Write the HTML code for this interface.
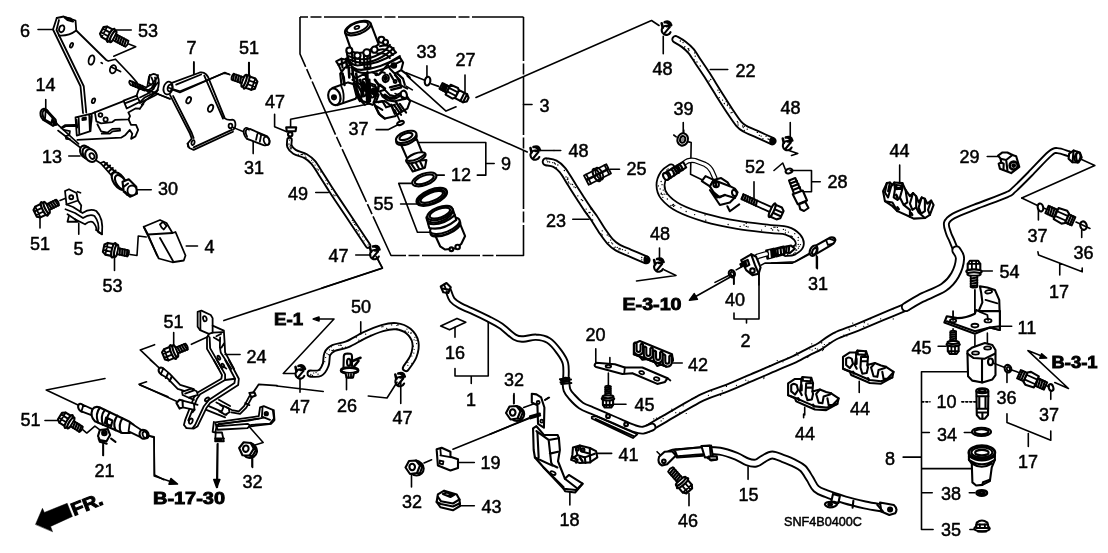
<!DOCTYPE html>
<html><head><meta charset="utf-8"><title>SNF4B0400C</title>
<style>
html,body{margin:0;padding:0;background:#fff;}
svg{display:block;filter:grayscale(1)}
svg path,svg circle,svg ellipse,svg line,svg polyline,svg polygon,svg rect{vector-effect:non-scaling-stroke;fill:none;stroke:#000;stroke-width:1.8;stroke-linecap:round;stroke-linejoin:round}
svg .w{fill:#fff}
svg .k{fill:#000}
svg .g{fill:#888}
svg .t{stroke-width:1.6}
svg .b{stroke-width:2.1}
svg .h{stroke-width:2.6}
svg .wh{stroke:#fff}
svg .d{stroke-dasharray:1 3;stroke-width:1.2}
svg text{font-family:"Liberation Sans",Arial,Helvetica,sans-serif;font-size:18px;fill:#000;stroke:#000;stroke-width:0.5px}
svg text.bd{font-weight:bold;font-size:17px;stroke:#000;stroke-width:0.9px}
</style></head><body>
<svg width="1108" height="553" viewBox="0 0 1108 553">
<rect x="0" y="0" width="1108" height="553" style="fill:#fff;stroke:none"/>
<!-- 00_defs.svgf -->
<defs>
<!-- bolt along +x: head centered at 0, shank to x=23 -->
<g id="bolt">
<path class="w b" d="M-6.500 -3.800L-3.500 -6L2.500 -6L2.500 6L-3.500 6L-6.500 3.800Z"/>
<path d="M-6 -2L2.500 -2M-6 2L2.500 2M-3.500 -6L-3.500 6"/>
<ellipse class="w b" cx="3.800" cy="0" rx="2" ry="7.400"/>
<ellipse class="w b" cx="6.300" cy="0" rx="1.800" ry="6.400"/>
<path class="w" d="M7.800 -3.300L22 -3.300Q23.500 0 22 3.300L7.800 3.300Z"/>
<path class="b" d="M9.500 -3.300L10.500 3.300M12 -3.300L13 3.300M14.500 -3.300L15.500 3.300M17 -3.300L18 3.300M19.500 -3.300L20.500 3.300"/>
</g>
<!-- short bolt: shank to x=19 -->
<g id="bolts">
<path class="w b" d="M-6.500 -3.800L-3.500 -6L2.500 -6L2.500 6L-3.500 6L-6.500 3.800Z"/>
<path d="M-6 -2L2.500 -2M-6 2L2.500 2M-3.500 -6L-3.500 6"/>
<ellipse class="w b" cx="3.800" cy="0" rx="2" ry="7.400"/>
<ellipse class="w b" cx="6.300" cy="0" rx="1.800" ry="6.400"/>
<path class="w" d="M7.800 -3.100L18.500 -3.100Q20 0 18.500 3.100L7.800 3.100Z"/>
<path class="b" d="M9.500 -3.100L10.500 3.100M12 -3.100L13 3.100M14.500 -3.100L15.500 3.100M17 -3.100L18 3.100"/>
</g>
<!-- flanged nut -->
<g id="nut">
<ellipse class="w b" cx="2.500" cy="1" rx="7.200" ry="7"/>
<path class="w b" d="M-8.500 0L-5 -6.500L2 -7L6 -2L3 5.500L-4 6.500Z"/>
<path class="b" d="M2 -7L5 -6L8.500 -1.200L6 -2M8.500 -1.200L5.800 6L3 5.500"/>
<ellipse class="b" cx="-1.800" cy="-0.500" rx="2.800" ry="3.200"/>
</g>
<!-- small hose clip -->
<g id="clip">
<path class="b" d="M3.500 -1.500A4.600 4.600 0 1 0 4.300 3.500"/>
<path class="h" d="M-4.500 -5.500L-3.500 -1M-1.500 -6.500Q3.500 -8.500 5 -3.500L0.500 -2.500M1 -6L4 -4.200"/>
<path class="b" d="M3 -1L-2 5"/>
</g>
<!-- o-ring washer small -->
<g id="oring"><ellipse class="b" cx="0" cy="0" rx="2.6" ry="3.8"/></g>
</defs>

<!-- 05_pipes.svgf -->
<!-- long pipe 1 generated -->
<g>
<path style="stroke-width:6.9" d="M956.5 252.0C955.8 250.2 953.3 244.2 952.0 241.0C950.7 237.8 949.4 236.0 948.5 233.0C947.6 230.0 945.7 225.8 946.5 223.0C947.3 220.2 948.8 218.7 953.5 216.0C958.2 213.3 966.2 210.5 975.0 207.0C983.8 203.5 999.8 197.8 1006.2 195.0C1012.7 192.2 1009.7 193.5 1013.7 190.0C1017.7 186.5 1024.0 180.1 1030.0 174.0C1036.0 167.9 1045.3 157.6 1049.9 153.7C1054.5 149.8 1054.3 150.6 1057.4 150.6C1060.5 150.6 1066.7 153.2 1068.6 153.7"/>
<path class="wh" style="stroke-width:3.1" d="M956.5 252.0C955.8 250.2 953.3 244.2 952.0 241.0C950.7 237.8 949.4 236.0 948.5 233.0C947.6 230.0 945.7 225.8 946.5 223.0C947.3 220.2 948.8 218.7 953.5 216.0C958.2 213.3 966.2 210.5 975.0 207.0C983.8 203.5 999.8 197.8 1006.2 195.0C1012.7 192.2 1009.7 193.5 1013.7 190.0C1017.7 186.5 1024.0 180.1 1030.0 174.0C1036.0 167.9 1045.3 157.6 1049.9 153.7C1054.5 149.8 1054.3 150.6 1057.4 150.6C1060.5 150.6 1066.7 153.2 1068.6 153.7"/>
<path style="stroke-width:7.3" d="M448.5 291.0C449.1 292.5 450.3 297.4 452.2 299.8C454.1 302.2 456.2 303.5 459.8 305.5C463.4 307.5 469.2 309.8 474.0 312.0C478.8 314.2 484.0 316.7 488.5 319.0C493.0 321.3 496.6 323.0 501.0 326.0C505.4 329.0 511.0 335.0 514.8 337.2C518.5 339.4 520.0 339.0 523.5 339.0C527.0 339.0 531.8 336.9 536.0 337.2C540.2 337.4 544.8 338.2 548.5 340.5C552.2 342.8 555.7 347.2 558.5 351.0C561.3 354.8 564.3 358.5 565.5 363.5C566.7 368.5 565.8 378.1 565.8 381.0"/>
<path class="wh" style="stroke-width:3.5" d="M448.5 291.0C449.1 292.5 450.3 297.4 452.2 299.8C454.1 302.2 456.2 303.5 459.8 305.5C463.4 307.5 469.2 309.8 474.0 312.0C478.8 314.2 484.0 316.7 488.5 319.0C493.0 321.3 496.6 323.0 501.0 326.0C505.4 329.0 511.0 335.0 514.8 337.2C518.5 339.4 520.0 339.0 523.5 339.0C527.0 339.0 531.8 336.9 536.0 337.2C540.2 337.4 544.8 338.2 548.5 340.5C552.2 342.8 555.7 347.2 558.5 351.0C561.3 354.8 564.3 358.5 565.5 363.5C566.7 368.5 565.8 378.1 565.8 381.0"/>
<path style="stroke-width:8.7" d="M648.0 428.5C650.8 426.9 655.9 423.8 665.0 418.6C674.1 413.4 692.0 402.5 702.4 397.4C712.8 392.3 719.0 391.3 727.3 388.0C735.6 384.7 743.5 381.1 752.0 377.5C760.5 373.9 770.8 369.3 778.0 366.2C785.2 363.1 789.7 361.5 795.0 359.0C800.3 356.5 805.8 353.2 810.0 351.1C814.2 349.0 815.8 348.7 820.0 346.2C824.2 343.7 828.8 339.3 835.0 336.2C841.2 333.1 849.5 330.6 857.3 327.4C865.1 324.2 873.5 320.5 882.0 317.0C890.5 313.5 903.7 308.0 908.0 306.2"/>
<path class="wh" style="stroke-width:4.9" d="M648.0 428.5C650.8 426.9 655.9 423.8 665.0 418.6C674.1 413.4 692.0 402.5 702.4 397.4C712.8 392.3 719.0 391.3 727.3 388.0C735.6 384.7 743.5 381.1 752.0 377.5C760.5 373.9 770.8 369.3 778.0 366.2C785.2 363.1 789.7 361.5 795.0 359.0C800.3 356.5 805.8 353.2 810.0 351.1C814.2 349.0 815.8 348.7 820.0 346.2C824.2 343.7 828.8 339.3 835.0 336.2C841.2 333.1 849.5 330.6 857.3 327.4C865.1 324.2 873.5 320.5 882.0 317.0C890.5 313.5 903.7 308.0 908.0 306.2"/>
<path style="stroke-width:8.7" d="M565.8 381.0C566.0 382.5 566.0 387.3 567.0 390.0C568.0 392.7 569.7 394.4 572.0 397.0C574.3 399.6 577.7 403.2 581.0 405.5C584.3 407.8 588.0 408.8 592.0 410.5C596.0 412.2 600.3 414.0 605.0 416.0C609.7 418.0 615.0 420.4 620.0 422.5C625.0 424.6 631.0 427.4 634.8 428.7C638.6 430.0 640.1 430.5 643.0 430.2C645.9 429.9 650.5 427.5 652.0 427.0"/>
<path class="wh" style="stroke-width:4.9" d="M565.8 381.0C566.0 382.5 566.0 387.3 567.0 390.0C568.0 392.7 569.7 394.4 572.0 397.0C574.3 399.6 577.7 403.2 581.0 405.5C584.3 407.8 588.0 408.8 592.0 410.5C596.0 412.2 600.3 414.0 605.0 416.0C609.7 418.0 615.0 420.4 620.0 422.5C625.0 424.6 631.0 427.4 634.8 428.7C638.6 430.0 640.1 430.5 643.0 430.2C645.9 429.9 650.5 427.5 652.0 427.0"/>
<path style="stroke-width:10.1" d="M906.0 307.0C908.3 305.6 913.7 302.0 920.0 298.7C926.3 295.4 937.9 291.3 943.7 287.4C949.5 283.4 952.3 279.8 955.0 275.0C957.7 270.2 959.8 262.8 960.0 258.7C960.2 254.6 957.1 251.9 956.5 250.5"/>
<path class="wh" style="stroke-width:6.3" d="M906.0 307.0C908.3 305.6 913.7 302.0 920.0 298.7C926.3 295.4 937.9 291.3 943.7 287.4C949.5 283.4 952.3 279.8 955.0 275.0C957.7 270.2 959.8 262.8 960.0 258.7C960.2 254.6 957.1 251.9 956.5 250.5"/>
<path class="b" d="M561 380.5L571 379.5M561.3 384L571.3 383"/>
<path style="stroke-width:1.2" d="M745.7 380.2h0.1M663.1 418.6h0.1M659.9 417.0h0.1M777.2 360.6h0.1M782.9 361.8h0.1M720.6 395.5h0.1M807.8 356.5h0.1M661.1 420.9h0.1M688.5 401.2h0.1M849.5 330.0h0.1M815.4 348.3h0.1M656.4 418.1h0.1M821.7 342.7h0.1M809.8 349.0h0.1M848.9 329.0h0.1M808.6 355.7h0.1M829.2 343.5h0.1M679.8 412.3h0.1M695.7 396.5h0.1M822.9 346.7h0.1M867.9 324.1h0.1M812.1 350.0h0.1M863.7 326.3h0.1M815.3 348.4h0.1M822.6 350.6h0.1M736.4 385.3h0.1M652.2 422.5h0.1M675.7 412.7h0.1M683.1 405.8h0.1M864.4 322.1h0.1M807.7 357.5h0.1M864.2 322.7h0.1M763.8 378.6h0.1M692.1 398.7h0.1M722.2 390.8h0.1M726.1 385.6h0.1M763.9 377.2h0.1M824.4 344.5h0.1M817.3 349.1h0.1M846.8 336.0h0.1M769.4 365.5h0.1M811.7 343.8h0.1M711.6 391.1h0.1M653.7 418.8h0.1M671.8 409.2h0.1M870.6 318.8h0.1M726.4 386.4h0.1M686.2 413.5h0.1M787.9 357.8h0.1M671.9 411.5h0.1M852.7 323.1h0.1M893.0 309.0h0.1M798.0 355.2h0.1M904.9 310.9h0.1M729.3 383.3h0.1M841.2 336.7h0.1M748.1 381.1h0.1M906.8 311.2h0.1M855.7 326.3h0.1M796.7 352.6h0.1M651.5 422.8h0.1M829.2 342.6h0.1M893.2 318.9h0.1M759.0 370.5h0.1M708.4 395.3h0.1M880.6 318.8h0.1M821.4 342.9h0.1M823.4 349.4h0.1M834.8 333.0h0.1M843.8 335.1h0.1"/>
</g>
<!-- pipe 15 -->
<g>
<path style="stroke-width:8.9" d="M662.5 460.6C664.0 459.5 668.3 455.1 671.2 453.7C674.1 452.3 674.8 453.0 680.0 452.5C685.2 452.0 695.8 450.8 702.4 450.6C709.0 450.4 714.3 450.3 719.9 451.2C725.5 452.1 731.5 454.4 736.1 456.2C740.7 458.0 744.0 460.6 747.3 461.8C750.6 463.0 753.4 463.6 756.1 463.1C758.8 462.6 760.9 460.1 763.6 458.7C766.3 457.3 769.1 455.0 772.3 455.0C775.5 455.0 779.4 457.2 783.0 458.5C786.6 459.8 790.7 461.3 794.0 463.0C797.3 464.7 800.4 465.9 803.0 468.5C805.6 471.1 807.7 475.3 809.9 478.7C812.1 482.1 813.5 486.2 816.2 488.7C818.9 491.2 821.4 491.8 826.2 493.7C831.0 495.6 838.5 498.0 844.9 499.9C851.3 501.8 858.6 503.5 864.8 504.9C871.0 506.2 879.4 507.5 882.3 508.0"/>
<path class="wh" style="stroke-width:5.1" d="M662.5 460.6C664.0 459.5 668.3 455.1 671.2 453.7C674.1 452.3 674.8 453.0 680.0 452.5C685.2 452.0 695.8 450.8 702.4 450.6C709.0 450.4 714.3 450.3 719.9 451.2C725.5 452.1 731.5 454.4 736.1 456.2C740.7 458.0 744.0 460.6 747.3 461.8C750.6 463.0 753.4 463.6 756.1 463.1C758.8 462.6 760.9 460.1 763.6 458.7C766.3 457.3 769.1 455.0 772.3 455.0C775.5 455.0 779.4 457.2 783.0 458.5C786.6 459.8 790.7 461.3 794.0 463.0C797.3 464.7 800.4 465.9 803.0 468.5C805.6 471.1 807.7 475.3 809.9 478.7C812.1 482.1 813.5 486.2 816.2 488.7C818.9 491.2 821.4 491.8 826.2 493.7C831.0 495.6 838.5 498.0 844.9 499.9C851.3 501.8 858.6 503.5 864.8 504.9C871.0 506.2 879.4 507.5 882.3 508.0"/>
</g>
<!-- hoses -->
<g>
<path style="stroke-width:8.4" d="M675.6 39.3C677.0 40.1 681.1 42.3 683.7 44.3C686.3 46.3 688.7 48.2 691.2 51.2C693.7 54.2 696.1 58.7 698.6 62.4C701.1 66.1 702.8 68.4 706.1 73.6C709.5 78.8 714.7 87.4 718.7 93.7C722.7 100.0 726.6 106.2 729.9 111.2C733.2 116.2 736.2 120.8 738.7 123.7C741.2 126.6 741.6 126.8 744.9 128.7C748.2 130.6 754.0 132.8 758.6 134.9C763.2 137.0 770.1 140.1 772.4 141.1"/>
<path class="wh" style="stroke-width:4.6" d="M675.6 39.3C677.0 40.1 681.1 42.3 683.7 44.3C686.3 46.3 688.7 48.2 691.2 51.2C693.7 54.2 696.1 58.7 698.6 62.4C701.1 66.1 702.8 68.4 706.1 73.6C709.5 78.8 714.7 87.4 718.7 93.7C722.7 100.0 726.6 106.2 729.9 111.2C733.2 116.2 736.2 120.8 738.7 123.7C741.2 126.6 741.6 126.8 744.9 128.7C748.2 130.6 754.0 132.8 758.6 134.9C763.2 137.0 770.1 140.1 772.4 141.1"/>
<path style="stroke-width:1.3" d="M768.0 138.9h0.1M766.0 136.3h0.1M684.2 47.9h0.1M744.2 130.5h0.1M770.4 139.2h0.1M722.5 100.1h0.1M769.0 139.4h0.1M762.9 138.6h0.1M747.2 129.2h0.1M696.9 62.0h0.1M695.2 56.2h0.1M759.3 135.3h0.1M729.8 107.9h0.1M761.1 136.1h0.1M719.2 97.6h0.1M687.8 51.4h0.1M689.0 50.3h0.1M724.3 103.7h0.1M726.2 101.7h0.1M724.3 103.3h0.1M743.2 127.6h0.1M744.2 126.4h0.1M731.0 112.8h0.1M737.9 122.9h0.1M717.9 90.2h0.1M757.3 132.4h0.1M727.3 105.6h0.1M684.8 46.6h0.1M680.3 41.0h0.1M737.3 121.6h0.1M688.7 48.8h0.1M688.6 49.3h0.1M694.6 52.9h0.1M719.3 92.6h0.1M688.0 48.6h0.1M700.2 66.0h0.1M738.0 125.0h0.1M709.1 81.0h0.1M732.1 112.3h0.1M771.6 142.3h0.1M683.0 42.6h0.1M742.6 126.0h0.1M710.7 79.5h0.1M694.0 59.6h0.1M727.5 104.2h0.1"/>
<path style="stroke-width:8.9" d="M546.2 161.8C547.7 162.1 552.3 162.3 555.0 163.7C557.7 165.1 559.7 166.7 562.4 170.0C565.1 173.3 568.3 179.1 571.2 183.7C574.1 188.3 577.2 193.2 579.9 197.4C582.6 201.6 585.1 205.6 587.4 208.9C589.7 212.2 591.2 213.8 593.7 217.5C596.2 221.2 599.7 227.2 602.4 231.2C605.1 235.1 607.4 238.5 609.9 241.2C612.4 243.9 614.1 245.4 617.4 247.4C620.7 249.4 625.1 250.9 629.9 253.0C634.7 255.1 643.4 258.8 646.1 259.9"/>
<path class="wh" style="stroke-width:5.1" d="M546.2 161.8C547.7 162.1 552.3 162.3 555.0 163.7C557.7 165.1 559.7 166.7 562.4 170.0C565.1 173.3 568.3 179.1 571.2 183.7C574.1 188.3 577.2 193.2 579.9 197.4C582.6 201.6 585.1 205.6 587.4 208.9C589.7 212.2 591.2 213.8 593.7 217.5C596.2 221.2 599.7 227.2 602.4 231.2C605.1 235.1 607.4 238.5 609.9 241.2C612.4 243.9 614.1 245.4 617.4 247.4C620.7 249.4 625.1 250.9 629.9 253.0C634.7 255.1 643.4 258.8 646.1 259.9"/>
<path style="stroke-width:1.3" d="M552.7 162.6h0.1M555.3 164.0h0.1M614.0 248.0h0.1M554.4 163.0h0.1M577.8 195.8h0.1M568.9 183.1h0.1M566.0 176.9h0.1M549.6 162.0h0.1M575.5 187.6h0.1M589.0 212.5h0.1M546.8 159.9h0.1M610.6 240.1h0.1M590.9 208.9h0.1M617.2 247.4h0.1M619.1 248.4h0.1M609.0 236.1h0.1M620.3 248.9h0.1M582.6 200.5h0.1M556.1 167.6h0.1M567.9 179.1h0.1M622.4 249.6h0.1M570.8 184.1h0.1M586.1 209.1h0.1M572.5 184.5h0.1M592.6 220.0h0.1M574.0 186.9h0.1M581.3 199.7h0.1M564.3 170.5h0.1M568.4 181.9h0.1M547.9 161.7h0.1M567.7 177.8h0.1M612.6 243.8h0.1M625.2 250.3h0.1M641.7 259.8h0.1M600.8 233.6h0.1M628.2 253.1h0.1M615.2 247.1h0.1M592.5 215.1h0.1M618.9 249.8h0.1M607.2 235.0h0.1M547.5 161.8h0.1M557.8 165.0h0.1M602.2 230.8h0.1M587.4 213.6h0.1M611.6 242.8h0.1M602.2 234.9h0.1M567.2 179.5h0.1M608.7 242.5h0.1M641.7 257.5h0.1M590.0 212.5h0.1"/>
<path style="stroke-width:6.5" d="M289.5 140.0C289.5 141.0 288.7 144.2 289.5 146.2C290.3 148.2 291.8 150.1 294.5 151.8C297.2 153.5 302.6 154.4 305.7 156.2C308.8 158.0 310.7 159.5 313.2 162.4C315.7 165.3 318.0 169.5 320.7 173.7C323.4 177.9 326.7 183.2 329.4 187.4C332.1 191.6 333.1 193.2 336.9 198.9C340.7 204.6 346.8 213.7 352.0 221.5C357.2 229.3 365.3 241.5 368.0 245.5"/>
<path class="wh" style="stroke-width:2.7" d="M289.5 140.0C289.5 141.0 288.7 144.2 289.5 146.2C290.3 148.2 291.8 150.1 294.5 151.8C297.2 153.5 302.6 154.4 305.7 156.2C308.8 158.0 310.7 159.5 313.2 162.4C315.7 165.3 318.0 169.5 320.7 173.7C323.4 177.9 326.7 183.2 329.4 187.4C332.1 191.6 333.1 193.2 336.9 198.9C340.7 204.6 346.8 213.7 352.0 221.5C357.2 229.3 365.3 241.5 368.0 245.5"/>
<path style="stroke-width:1.1" d="M325.9 180.2h0.1M290.5 148.7h0.1M303.0 153.8h0.1M288.9 143.8h0.1M331.6 189.5h0.1M318.0 169.6h0.1M290.9 145.8h0.1M366.0 239.5h0.1M315.0 165.1h0.1M312.9 162.2h0.1M359.4 234.0h0.1M290.9 148.9h0.1M291.3 147.3h0.1M352.3 220.4h0.1M353.2 222.2h0.1M289.5 140.1h0.1M301.6 154.6h0.1M304.8 154.2h0.1M336.0 195.1h0.1M358.0 230.6h0.1M301.0 154.2h0.1M368.1 244.9h0.1M311.5 160.3h0.1M290.4 145.1h0.1M358.1 231.0h0.1M316.9 168.8h0.1M362.7 236.8h0.1M327.7 184.1h0.1M320.8 171.9h0.1M333.7 194.9h0.1M327.1 183.5h0.1M356.5 229.6h0.1M305.9 157.4h0.1M364.0 240.8h0.1M302.6 154.6h0.1M291.2 148.3h0.1M354.5 224.5h0.1M355.8 225.1h0.1M290.0 146.6h0.1M305.2 156.0h0.1M298.3 154.2h0.1M334.8 195.8h0.1M318.3 170.1h0.1M288.9 144.7h0.1M290.2 147.3h0.1"/>
<path style="stroke-width:8.1" d="M310.6 373.6C312.2 373.5 317.4 374.4 319.9 373.0C322.4 371.6 324.4 368.1 325.6 364.9C326.9 361.7 326.0 356.5 327.4 353.7C328.8 350.9 330.4 349.6 333.7 348.0C337.0 346.4 342.2 346.5 347.4 344.3C352.6 342.1 359.1 337.7 364.9 335.0C370.7 332.3 377.1 329.6 382.3 328.1C387.5 326.6 391.6 325.7 396.0 326.2C400.4 326.7 405.3 328.5 408.5 331.2C411.7 333.9 414.6 338.2 415.4 342.4C416.2 346.6 415.1 351.9 413.5 356.2C411.9 360.5 407.2 366.0 406.0 368.0"/>
<path class="wh" style="stroke-width:4.3" d="M310.6 373.6C312.2 373.5 317.4 374.4 319.9 373.0C322.4 371.6 324.4 368.1 325.6 364.9C326.9 361.7 326.0 356.5 327.4 353.7C328.8 350.9 330.4 349.6 333.7 348.0C337.0 346.4 342.2 346.5 347.4 344.3C352.6 342.1 359.1 337.7 364.9 335.0C370.7 332.3 377.1 329.6 382.3 328.1C387.5 326.6 391.6 325.7 396.0 326.2C400.4 326.7 405.3 328.5 408.5 331.2C411.7 333.9 414.6 338.2 415.4 342.4C416.2 346.6 415.1 351.9 413.5 356.2C411.9 360.5 407.2 366.0 406.0 368.0"/>
<path style="stroke-width:1.2" d="M413.4 346.2h0.1M326.9 353.6h0.1M411.8 363.3h0.1M310.8 374.4h0.1M413.8 353.1h0.1M310.1 375.6h0.1M416.5 343.6h0.1M325.5 352.2h0.1M370.4 335.3h0.1M405.0 330.8h0.1M356.2 337.6h0.1M409.9 337.6h0.1M391.6 324.9h0.1M328.2 354.5h0.1M319.8 370.3h0.1M381.7 326.8h0.1M382.9 326.7h0.1M358.8 340.1h0.1M414.1 349.5h0.1M329.5 355.1h0.1M329.4 349.8h0.1M396.8 325.5h0.1M398.1 324.9h0.1M313.6 373.0h0.1M396.9 328.6h0.1M406.9 329.1h0.1M407.8 365.3h0.1M325.6 357.5h0.1M333.0 350.6h0.1M324.7 361.7h0.1M397.9 324.5h0.1M342.2 347.6h0.1M321.8 365.2h0.1M345.5 347.2h0.1M408.3 332.2h0.1M331.9 350.4h0.1M405.7 331.8h0.1M340.5 345.2h0.1M323.3 363.5h0.1M338.9 345.4h0.1M407.8 362.3h0.1M416.0 340.5h0.1M316.0 372.6h0.1M411.8 356.0h0.1M411.7 352.5h0.1M414.9 337.3h0.1M312.4 375.4h0.1M329.1 355.1h0.1M333.6 349.9h0.1M386.7 328.4h0.1M331.3 346.8h0.1M411.0 332.6h0.1M408.8 358.7h0.1M361.9 339.9h0.1M341.2 345.3h0.1M365.6 334.2h0.1M414.0 339.8h0.1M410.9 333.4h0.1M332.0 350.3h0.1M318.0 374.2h0.1"/>
</g>
<!-- hose 2 -->
<g>
<path style="stroke-width:9.8" d="M671.0 168.5C669.9 169.4 666.1 170.9 664.4 173.7C662.6 176.4 660.5 181.2 660.5 185.0C660.5 188.8 661.3 192.7 664.4 196.5C667.5 200.3 672.2 204.5 679.0 208.0C685.8 211.5 695.2 214.9 705.0 217.7C714.8 220.5 726.8 223.0 737.7 224.9C748.6 226.8 762.1 228.0 770.3 229.0C778.4 230.0 782.1 229.4 786.6 230.7C791.1 232.0 794.9 234.6 797.0 237.0C799.1 239.4 800.2 243.1 799.5 245.4C798.8 247.7 795.2 249.9 793.0 251.0C790.8 252.1 787.2 251.8 786.0 252.0"/>
<path class="wh" style="stroke-width:6.2" d="M671.0 168.5C669.9 169.4 666.1 170.9 664.4 173.7C662.6 176.4 660.5 181.2 660.5 185.0C660.5 188.8 661.3 192.7 664.4 196.5C667.5 200.3 672.2 204.5 679.0 208.0C685.8 211.5 695.2 214.9 705.0 217.7C714.8 220.5 726.8 223.0 737.7 224.9C748.6 226.8 762.1 228.0 770.3 229.0C778.4 230.0 782.1 229.4 786.6 230.7C791.1 232.0 794.9 234.6 797.0 237.0C799.1 239.4 800.2 243.1 799.5 245.4C798.8 247.7 795.2 249.9 793.0 251.0C790.8 252.1 787.2 251.8 786.0 252.0"/>
<path style="stroke-width:1.3" d="M664.1 194.2h0.1M775.0 227.2h0.1M671.7 168.1h0.1M666.2 194.2h0.1M799.1 246.3h0.1M662.0 184.7h0.1M748.0 226.9h0.1M667.3 173.0h0.1M670.9 205.5h0.1M728.1 224.5h0.1M794.7 233.7h0.1M798.2 244.4h0.1M793.9 246.6h0.1M665.3 191.6h0.1M777.7 229.9h0.1M694.6 214.6h0.1M772.6 230.0h0.1M793.8 253.7h0.1M785.4 232.9h0.1M791.1 251.9h0.1M791.0 236.0h0.1M765.3 226.2h0.1M800.4 244.6h0.1M798.1 240.3h0.1M673.5 204.5h0.1M668.1 168.9h0.1M792.2 236.6h0.1M787.7 254.4h0.1M672.7 205.3h0.1M666.9 170.0h0.1M773.8 227.2h0.1M795.8 250.1h0.1M793.9 249.4h0.1M746.3 226.4h0.1M761.5 230.1h0.1M740.1 226.4h0.1M662.8 197.3h0.1M746.2 223.4h0.1M705.0 215.0h0.1M777.3 227.4h0.1M778.7 230.8h0.1M686.1 211.5h0.1M667.0 170.8h0.1M787.8 251.3h0.1M771.2 228.5h0.1M674.7 205.6h0.1M672.6 204.9h0.1M669.2 171.4h0.1M673.5 206.4h0.1M662.2 194.6h0.1M788.4 232.1h0.1M680.9 207.7h0.1M796.0 246.0h0.1M785.4 230.1h0.1M661.3 193.2h0.1M663.2 190.1h0.1M660.1 188.9h0.1M783.4 229.4h0.1M661.1 181.5h0.1M667.3 199.0h0.1M705.7 220.2h0.1M658.4 185.9h0.1M798.4 248.2h0.1M792.4 250.0h0.1M798.2 237.5h0.1M744.0 225.0h0.1M661.1 193.9h0.1M672.5 199.2h0.1M795.0 252.3h0.1M796.6 250.0h0.1"/>
</g>

<!-- 10_tile00.svgf -->
<g transform="scale(0.25)">
<!-- leaders -->
<path class="t" d="M152 118L213 118M455 120L525 120M515 176L543 187L455 225M775 250L775 295M995 250L995 305M915 296L895 293L720 365L672 350M183 398L183 435M590 360L680 395"/>
<!-- bracket 6 upper -->
<path d="M227 72L212 118L322 345L332 452M236 80L226 120L335 345L345 450"/>
<path d="M227 72L255 66L302 82L305 122L425 240L433 244L462 237L522 300L548 330"/>
<path d="M235 142Q275 145 305 122"/>
<path class="b" d="M258 70L282 74L292 86L270 80Z"/>
<ellipse cx="247" cy="115" rx="10" ry="14" transform="rotate(20 247 115)"/>
<ellipse cx="286" cy="181" rx="5" ry="10" transform="rotate(25 286 181)"/>
<ellipse cx="366" cy="240" rx="11" ry="19" transform="rotate(15 366 240)"/>
<ellipse cx="452" cy="277" rx="12" ry="17" transform="rotate(20 452 277)"/>
<path d="M445 268L482 286M405 251L409 253"/>
<ellipse cx="374" cy="403" rx="6" ry="10" transform="rotate(20 374 403)"/>
</g>
<!-- bracket 6 lower (8x view @20,75) -->
<g transform="translate(20,75) scale(0.12478)">
<path d="M445 340L575 310L600 300L830 210M445 340L455 485L565 450L575 310M470 345L475 470M555 320L560 445"/>
<path class="k" d="M500 345L528 340L528 358L500 362Z"/>
<path class="b" d="M452 360L458 420M572 330L570 380"/>
<circle cx="645" cy="320" r="15"/><circle cx="686" cy="357" r="17"/>
<path d="M830 205L935 165L960 215L855 268Z M845 225L940 190"/>
<path d="M600 300L612 372L650 388L740 377L762 360L870 355L882 330L868 300L925 268L960 270M935 165L950 120L990 95"/>
<path d="M870 355L890 400L930 400L947 440L925 492L890 512L900 470L880 440L845 480L810 502L460 520"/>
<path d="M620 395L650 452L700 462L740 432L800 430L802 446L742 452L720 470L655 470"/>
<path d="M330 422L360 402L445 400M335 428L365 410L445 410M350 440L400 450L395 482L365 490L370 512L402 516"/>
<path d="M960 220L1000 180L1060 150L1106 120M975 240L1010 200L1070 170L1106 150M960 270L990 230"/>
<!-- 14 -->
<path class="w b" d="M215 282L285 358L292 392L265 408L185 358Z"/>
<path class="k b" d="M262 362L286 378L292 398L270 400Z"/>
<ellipse class="w b" cx="198" cy="318" rx="33" ry="47" transform="rotate(-15 198 318)"/>
<ellipse class="w b" cx="206" cy="320" rx="24" ry="38" transform="rotate(-15 206 320)"/>
<path class="w" d="M206 284L262 345L250 385L200 356Z"/>
<path d="M262 345Q270 365 250 385"/>
<path class="t" d="M290 385L470 552"/>
<!-- stud at bracket -->
<path d="M880 45L1010 100M888 80L1000 125M880 45Q868 62 888 80"/>
<path class="b" d="M900 55L908 88M920 62L928 96M940 70L948 104M960 78L968 112M980 86L988 120"/>
<path d="M1010 100L1060 70L1100 20L1106 0M1030 120L1080 90L1106 60M1040 0L1030 60L1050 80"/>
</g>

<!-- 11_tile00b.svgf -->
<!-- bolt 53, bolt 51(top) -->
<use href="#bolt" transform="translate(107.5,33.5) rotate(28)"/>
<use href="#bolts" transform="translate(250,83) rotate(200)"/>
<!-- bracket 7 (8x view @140,60) -->
<g transform="translate(140,60) scale(0.12478)">
<path d="M250 185L480 100Q510 95 530 115L545 135L680 468Q700 485 740 478Q765 480 765 520L760 545L745 560M290 197L490 116M515 125L665 470"/>
<path d="M240 280L400 590L415 630L385 665L385 695M265 288L415 585L430 625"/>
<path d="M745 575L430 720L395 705L380 670M735 560L430 700"/>
<ellipse cx="225" cy="225" rx="36" ry="52" transform="rotate(15 225 225)"/>
<ellipse cx="240" cy="225" rx="18" ry="28" transform="rotate(15 240 225)"/>
<ellipse cx="390" cy="322" rx="17" ry="27" transform="rotate(25 390 322)"/>
<ellipse cx="565" cy="387" rx="19" ry="30" transform="rotate(25 565 387)"/>
<ellipse cx="725" cy="528" rx="15" ry="18"/>
<ellipse cx="425" cy="662" rx="12" ry="20" transform="rotate(15 425 662)"/>
<!-- hook -->
<path d="M60 205L72 135Q100 95 140 125Q165 180 135 255L60 312L0 345M92 140L112 190L95 222M35 235L80 265M0 300L60 270L110 230Q135 180 120 140"/>
<!-- leaders -->
<path class="t" d="M0 215L240 312M432 15L432 110M875 20L875 130M720 118L680 100L320 260L250 235M745 540L830 575M907 645L907 750"/>
<!-- 31 -->
<ellipse class="w" cx="862" cy="590" rx="28" ry="48" transform="rotate(-20 862 590)"/>
<ellipse cx="872" cy="592" rx="22" ry="40" transform="rotate(-20 872 592)"/>
<path class="w" d="M880 552L1020 612Q1050 640 1030 675Q1015 690 990 682L860 632"/>
<ellipse cx="1015" cy="648" rx="22" ry="34" transform="rotate(-20 1015 648)"/>
<path d="M940 595L930 640M970 605L960 655M945 585L1000 608"/>
</g>

<!-- 12_tile01.svgf -->
<!-- tile (0,138) 4x -->
<g transform="translate(0,138) scale(0.25)">
<path class="t" d="M275 72L320 72M545 207L605 207M160 315L160 360M240 250L275 236M315 340L315 385M458 480L458 530M520 466L548 470L553 392L585 396M745 432L790 432M385 90L420 112M232 -30L330 45"/>
<!-- 13 grommet -->
<ellipse class="w b" cx="342" cy="56" rx="20" ry="27" transform="rotate(-30 342 56)"/>
<ellipse class="w b" cx="352" cy="62" rx="20" ry="27" transform="rotate(-30 352 62)"/>
<ellipse class="w b" cx="364" cy="70" rx="22" ry="27" transform="rotate(-30 364 70)"/>
<ellipse cx="368" cy="72" rx="9" ry="12" transform="rotate(-30 368 72)"/>
<!-- screw 30 -->
<path class="w" d="M402 100L415 95L478 150L462 168Z"/>
<path class="b" d="M415 112L428 100M426 122L440 110M437 132L451 120M448 142L462 130M458 152L472 140"/>
<ellipse class="w b" cx="476" cy="172" rx="22" ry="40" transform="rotate(-35 476 172)"/>
<ellipse class="w b" cx="484" cy="178" rx="18" ry="34" transform="rotate(-35 484 178)"/>
<path class="w b" d="M490 175L515 165L545 195L548 222L520 235L495 215Z"/>
<ellipse class="w" cx="528" cy="210" rx="18" ry="20"/>
<path class="b" d="M495 195L512 182M500 215L510 228"/>
<!-- bracket 5 -->
<path class="w" d="M260 212L276 205L306 220L312 250L266 266Z"/>
<circle cx="285" cy="237" r="8"/>
<path d="M266 266L292 276L330 300Q360 280 385 292Q415 320 408 385L395 378"/>
<path d="M262 285L300 300L332 320Q360 302 378 312Q400 340 392 375"/>
<path d="M270 305L300 325L340 345Q360 330 372 337Q388 355 385 368"/>
<path d="M312 250L325 270L322 295M275 315L270 335L310 335L300 325M310 215L322 219M408 385L385 368"/>
<!-- cover 4 -->
<path class="w" d="M575 355L640 328L666 340L690 380L702 376L742 470L735 490L690 497L635 482Z"/>
<path d="M575 355L592 386L690 380M592 386L628 470M640 400L692 492M640 346L652 335L666 352L655 366Q645 360 640 346"/>
</g>
<use href="#bolts" transform="translate(41,210.5) rotate(-26)"/>
<use href="#bolts" transform="translate(110,249.5) rotate(12)"/>

<!-- 13_tile02.svgf -->
<!-- bracket 24 assembly (8x view @139,300) -->
<g transform="translate(139,300) scale(0.12478)">
<path class="t" d="M680 165L1950 -255L1900 -350M278 260L278 365M420 355L560 290M690 437L810 437M125 358L10 400L165 548M90 481L165 546M60 656L0 676L300 811"/>
<!-- top tab -->
<path class="w" d="M470 95L500 85L575 120L590 145L590 262L560 272L490 242L470 215Z"/>
<path d="M492 100L492 238"/>
<ellipse cx="528" cy="150" rx="14" ry="21" transform="rotate(-15 528 150)"/>
<path d="M590 205L680 245L686 340L660 382M590 262L668 258M560 272L545 300L545 392L640 552M566 300L570 386L665 552M650 300L648 378L655 420L740 552M600 300L650 330M686 340L690 420L762 552M620 290L660 270"/>
<ellipse cx="640" cy="462" rx="9" ry="18" transform="rotate(-30 640 462)"/>
<ellipse cx="672" cy="525" rx="9" ry="16" transform="rotate(-30 672 525)"/>
<!-- strip view B (+481) -->
<path d="M600 481L665 601L660 631L470 741L440 781L370 961L360 1001L380 1026"/>
<path d="M625 481L690 596L690 641L490 756L465 791L395 965"/>
<path d="M690 481L770 631L765 666L560 801L520 851L450 1001L430 1026"/>
<path d="M720 481L800 631L795 681L570 826L540 866L470 1011L440 1030L380 1026"/>
<path d="M690 641L770 631M680 535L700 550"/>
<ellipse cx="545" cy="796" rx="20" ry="11" transform="rotate(-35 545 796)"/>
<ellipse cx="415" cy="971" rx="14" ry="22" transform="rotate(20 415 971)"/>
<!-- upper tube w/ fitting -->
<ellipse class="w b" cx="182" cy="570" rx="22" ry="30" transform="rotate(-35 182 570)"/>
<path class="w" d="M195 548L245 590L330 680L440 715L430 750L310 712L225 625L175 595Z"/>
<path class="b" d="M232 590L215 625M262 615L245 650"/>
<path class="w" d="M345 736L420 711L462 731L472 761L400 783L350 761Z"/>
<path d="M370 750L440 725M400 783L440 800"/>
<!-- lower tube w/ cone fitting -->
<path class="w b" d="M300 826L325 800L350 806L352 860L325 870Z"/>
<path class="w" d="M350 806L440 830L445 880L352 860Z"/>
<path d="M440 830L470 840M445 880L430 900"/>
<!-- tubes right of bracket -->
<path d="M560 851L700 911M540 880L690 940M620 821L720 871M640 800L730 850M650 841L720 881L700 921L640 891"/>
<path class="w" d="M680 850L720 870L725 900L690 920L660 900Z"/>
<!-- right small tube -->
<path d="M1106 686L960 676L912 746"/>
<path class="w b" d="M885 745L925 740L935 765L900 780Z"/>
<path d="M885 770L842 850L800 892L745 882L700 860M905 780L860 862L810 912L740 900M850 826L885 842"/>
<!-- bottom bracket right -->
<path class="w" d="M610 981L960 931L970 861L1000 851L1072 881L1082 951L1050 991L900 1001L870 1026L630 1040Z"/>
<path d="M990 861L985 935L1050 960M620 1000L960 950"/>
<circle cx="1020" cy="911" r="14"/><circle class="k" cx="1020" cy="911" r="5"/>
<!-- view C (+882) -->
<path d="M600 977L590 1057L612 1062L622 1012L870 992L900 1012L1060 992L1086 962L1080 882M622 1012L640 992L880 967L1000 942"/>
<path class="w" d="M615 1062L610 1132L680 1132L665 1062Z"/>
<path class="b" d="M612 1110L680 1110M625 1125L660 1125"/>
<path class="t" d="M632 1150L628 1500M880 1012L995 1142L930 1162M910 1252L910 1342M75 1087L120 1097L125 1402L200 1440"/>
<!-- nut 32 -->
</g>
<use href="#nut" transform="translate(247.5,449.5) rotate(10)"/>
<use href="#bolts" transform="translate(169.5,353.5) rotate(-22)"/>

<!-- 14_tile03.svgf -->
<!-- part 21 (8x view @30,385) -->
<g transform="translate(30,385) scale(0.12478)">
<path class="t" d="M601 -52L130 40L385 160M120 285L245 285M425 360L455 385L520 330L560 360M588 480L588 565M960 410L995 420M880 0L1106 95"/>
<ellipse class="w b" cx="410" cy="182" rx="22" ry="33" transform="rotate(-25 410 182)"/>
<path class="w" d="M428 160L505 195L492 242L412 212Z"/>
<path class="w b" d="M500 195Q520 165 560 180L790 290L830 320L800 385L740 385L520 290Q480 250 500 195Z"/>
<path class="b" d="M560 182Q520 230 545 300M600 200Q560 250 585 320M640 220Q600 270 625 340M700 245Q660 300 685 362M740 268Q705 320 728 380M610 260L660 285L650 330L600 305Z"/>
<path class="w" d="M800 300L905 368L890 420L790 372Z"/>
<ellipse class="w b" cx="925" cy="395" rx="24" ry="33" transform="rotate(-25 925 395)"/>
<ellipse cx="932" cy="398" rx="12" ry="18" transform="rotate(-25 932 398)"/>
<path class="w b" d="M560 360L622 352L642 400L612 452L560 442L545 410Z"/>
<circle class="b" cx="596" cy="385" r="18"/><circle cx="596" cy="385" r="7"/>
<path class="b" d="M550 430L560 455L615 470M650 430L685 455"/>
</g>
<use href="#bolts" transform="translate(65.5,419.5) rotate(32)"/>
<!-- arrows -->
<path class="t" d="M154.2 437.4L154.2 476L174 482.8"/>
<path class="k t" d="M177.5 484L169 484.2L171 478.6Z"/>
<path class="t" d="M217.3 444L216.8 480"/>
<path class="k t" d="M216.7 487.5L213.8 479.5L219.8 479.5Z"/>
<path class="t" d="M103 441.6L103 455.5M252 455.5L252 466.8"/>
<!-- fitting left of arrow line -->
<g transform="translate(139,410) scale(0.12478)">
<ellipse class="w b" cx="35" cy="195" rx="30" ry="36" transform="rotate(-20 35 195)"/>
<ellipse cx="48" cy="198" rx="18" ry="26" transform="rotate(-20 48 198)"/>
</g>
<!-- FR arrow -->
<g transform="translate(20,484) scale(0.12478)">
<path class="k" style="stroke-width:0.5" d="M125 322L180 195L195 228L378 155L420 260L245 340L260 380Z"/>
</g>
<text transform="translate(74,516) rotate(-22)" x="0" y="0" style="font-weight:bold;font-size:18px;stroke:#000;stroke-width:1px" textLength="32.500" lengthAdjust="spacingAndGlyphs">FR.</text>

<!-- 20_tile10.svgf -->
<!-- dashed box item 3 -->
<path class="t" style="vector-effect:none;stroke-dasharray:58 2.5 11 2.5;stroke-dashoffset:-24;stroke-linecap:butt" d="M300 17L523.500 17"/>
<path class="t" style="vector-effect:none;stroke-dasharray:58 2.5 11 2.5;stroke-dashoffset:14;stroke-linecap:butt" d="M523.500 17L523.500 255.500L391 255.500L337 138L300 54L300 17"/>
<path class="t" d="M523.500 104.500L532 104.500"/>
<!-- modulator (8x view @320,15) -->
<g transform="translate(320,15) scale(0.12478)">
<!-- top cylinder -->
<path class="w b" d="M200 140L255 295Q350 330 470 235L405 65Z"/>
<ellipse class="w b" cx="303" cy="105" rx="108" ry="48" transform="rotate(-20 303 105)"/>
<ellipse cx="300" cy="100" rx="90" ry="36" transform="rotate(-20 300 100)"/>
<ellipse cx="296" cy="100" rx="20" ry="11" transform="rotate(-20 296 100)"/>
<!-- flange arcs -->
<path class="b" d="M225 340Q240 400 300 405Q470 400 610 300M235 380Q260 440 330 440Q490 430 640 330M250 420Q300 470 380 465Q500 450 650 370M480 250Q560 225 600 290M470 280Q540 260 585 320M460 310Q520 295 560 345"/>
<!-- bolt heads -->
<circle class="w b" cx="235" cy="285" r="24"/><circle class="w b" cx="300" cy="325" r="25"/><circle class="w b" cx="375" cy="302" r="28"/><circle class="w b" cx="437" cy="278" r="25"/><circle class="w b" cx="492" cy="198" r="24"/><circle class="w b" cx="525" cy="218" r="20"/>
<path class="b" d="M215 300L225 370M255 300L262 372M352 322L356 425L404 425L402 322M380 330L380 420M280 345L285 395M320 345L322 392"/>
<!-- left bracket -->
<path class="b" d="M130 372L172 350L222 360L240 402L200 422L162 470L172 560L190 640M150 402L192 500L200 600M130 372L150 402M172 350L180 420"/>
<!-- right body -->
<path class="b" d="M540 392L640 340L666 382L650 442L692 472L720 500M560 430L602 472L640 540M540 392L560 430M650 442L600 470"/>
<circle class="b" cx="592" cy="405" r="18"/><circle cx="592" cy="405" r="7"/>
<path class="b" d="M380 452L392 700M420 460L470 480L540 400"/>
<circle cx="452" cy="475" r="9"/>
<ellipse class="b" cx="527" cy="508" rx="24" ry="30" transform="rotate(15 527 508)"/><ellipse class="k" cx="527" cy="508" rx="10" ry="14" transform="rotate(15 527 508)"/>
<circle class="b" cx="602" cy="533" r="11"/>
<!-- left motor -->
<path class="w b" d="M100 585L225 540L290 560L300 640L285 672L140 722Z"/>
<ellipse class="w b" cx="115" cy="655" rx="48" ry="68" transform="rotate(-15 115 655)"/>
<circle cx="112" cy="660" r="17"/><circle class="k" cx="112" cy="660" r="6"/>
<path d="M170 570Q200 630 185 705"/>
<!-- central mass -->
<path class="b" d="M250 470L300 520L290 600L340 690L420 720M260 520L330 560L350 640M300 500L360 470L380 540L440 560L460 620L430 700L470 790L520 830L600 812L642 782L700 750L722 690L690 640"/>
<path class="b" d="M340 520Q370 500 380 540Q370 570 345 560ZM400 560L450 580L440 640L400 620ZM420 590L470 640L450 690M270 540Q300 560 290 590"/>
<path class="b" d="M480 612L520 600L560 642L600 652L660 616L692 636L682 672L600 692L540 682L500 652ZM500 640L540 660L600 670L660 640"/>
<path class="b" d="M600 730L650 800M640 712L690 782M560 580L640 560L700 590M570 600L650 580M430 710L480 800L520 830M470 700L500 690L530 740L600 720M450 730L500 760"/>
<path class="h" d="M410 600L440 650M430 590L455 640M300 560L330 610"/>
<ellipse class="w b" cx="672" cy="640" rx="24" ry="34" transform="rotate(-10 672 640)"/>
<!-- extra density -->
<path class="h" d="M372 470L378 700M395 520L400 690M320 520L345 600L330 660M350 540L365 610M290 470L300 540M260 440L270 520M230 420L235 500M440 520L470 560L465 610M480 560L520 590"/>
<path class="b" d="M330 610Q360 590 375 620Q365 660 335 650ZM400 610Q430 600 445 630Q440 665 410 660ZM300 600L320 680L360 720M270 560L290 640L320 690M480 470Q500 450 520 465M230 330Q330 380 440 330Q520 300 560 240M245 360Q340 410 460 355Q540 320 590 265M600 480L640 520L650 580M620 470L665 510L680 560M560 470L590 520M430 700L520 690L560 720"/>
<path class="h" d="M210 350L216 420M198 380L150 400M180 470L196 560M520 640L560 670L610 665M610 700L655 770M570 720L600 790"/>
<!-- 37 o-ring -->
<ellipse class="b" cx="645" cy="866" rx="28" ry="14" transform="rotate(-20 645 866)"/>
<!-- 33 o-ring -->
<ellipse class="b" cx="862" cy="530" rx="22" ry="35" transform="rotate(10 862 530)"/>
<!-- leaders -->
<path class="t" d="M857 408L857 498M690 462L840 522M890 550L950 572M700 490L1010 770L1090 736M601 629L1661 1098M690 570L740 600M450 919L545 919L620 881M600 760L640 850"/>
</g>
<!-- sensor 27 -->
<g transform="translate(441,86) rotate(27)">
<path class="w b" d="M0 -3.2L8 -3.2L8 3.2L0 3.2Z"/><path class="b" d="M1.5 -3.2L2 3.2M3.5 -3.2L4 3.2M5.5 -3.2L6 3.2"/>
<path class="w b" d="M8 -5.5L16 -6L18 -4L18 4L16 6L8 5.5Z"/><path d="M8 -2L18 -2M8 2L18 2"/>
<path class="w b" d="M18 -4.5L27 -4.5L30 -2L30 2L27 4.5L18 4.5Z"/><path class="b" d="M24 -4.5L24 4.5M27 -4.5L27 4.5"/>
</g>
<path class="t" d="M465 75L465 92"/>
<!-- clip 47 top-left with leader -->
<path class="t" d="M274.600 114.300L274.600 126.800L286.800 131.800M290.600 127L290.600 119.300L369.800 103.700"/>
<path class="b" d="M286.200 127.400L296.200 127.400L295.600 131.200L286.800 131.200Z"/><circle class="b" cx="290.200" cy="134.300" r="2.200"/>

<!-- 21_tile11.svgf -->
<!-- valve 9, rings 12/55, cup (8x view @380,125) -->
<g transform="translate(380,125) scale(0.12478)">
<path class="t" d="M310 140L848 140L848 402L780 402M848 308L915 308M455 402L515 402M250 468L150 468L300 860L400 860M165 633L300 633"/>
<!-- valve 9 -->
<path class="w b" d="M170 160L225 285L345 240L295 115Z"/>
<ellipse class="w b" cx="212" cy="112" rx="86" ry="42" transform="rotate(-20 212 112)"/>
<ellipse class="w b" cx="210" cy="95" rx="86" ry="42" transform="rotate(-20 210 95)"/>
<ellipse class="b" cx="208" cy="92" rx="55" ry="24" transform="rotate(-20 208 92)"/>
<path class="w b" d="M215 295L262 372L360 342L372 280Z"/>
<path class="b" d="M250 310L285 362M285 300L315 352M320 290L345 342"/>
<ellipse class="w b" cx="288" cy="262" rx="82" ry="34" transform="rotate(-22 288 262)"/>
<path class="b" d="M210 285Q280 300 362 232"/>
<!-- ring 12 -->
<ellipse class="b" cx="355" cy="436" rx="102" ry="46" transform="rotate(-20 355 436)"/>
<ellipse class="b" cx="355" cy="436" rx="80" ry="30" transform="rotate(-20 355 436)"/>
<!-- ring 55 -->
<ellipse class="h" cx="415" cy="576" rx="128" ry="56" transform="rotate(-22 415 576)"/>
<ellipse class="b" cx="415" cy="580" rx="112" ry="46" transform="rotate(-22 415 580)"/>
<ellipse class="b" cx="415" cy="576" rx="96" ry="34" transform="rotate(-22 415 576)"/>
<!-- cup -->
<path class="w b" d="M440 880L482 972L522 998L600 990L652 952L682 890L645 800Z"/>
<circle class="w b" cx="572" cy="996" r="15"/><circle class="w b" cx="622" cy="978" r="18"/>
<ellipse class="w h" cx="524" cy="826" rx="126" ry="50" transform="rotate(-22 524 826)"/>
<ellipse class="w b" cx="520" cy="808" rx="126" ry="50" transform="rotate(-22 520 808)"/>
<path class="w b" d="M372 740L395 825Q500 850 612 760L582 672Z"/>
<path class="b" d="M385 790Q490 815 600 722"/>
<ellipse class="w b" cx="478" cy="722" rx="108" ry="50" transform="rotate(-20 478 722)"/>
<ellipse class="w b" cx="480" cy="706" rx="106" ry="48" transform="rotate(-20 480 706)"/>
<ellipse class="b" cx="480" cy="706" rx="86" ry="35" transform="rotate(-20 480 706)"/>
</g>
<!-- hose 49 + clips 47 (4x @277,138) -->
<g transform="translate(277,138) scale(0.25)">
<path class="t" d="M155 218L205 218M315 468L375 468M400 478L422 520L180 600M1050 50L1108 50"/>
</g>
<use href="#clip" transform="translate(374.5,253)"/>
<use href="#clip" transform="translate(535,153.5)"/>

<!-- 22_tile12.svgf -->
<!-- tile (277,276) 4x -->
<g transform="translate(277,276) scale(0.25)">
<path class="t" d="M70 390L25 390L228 172L160 172M92 410L92 465M0 440L185 462M335 183L335 232M495 425L495 510M365 480L440 488L480 425M278 405L278 455M712 205L712 245M712 370L712 400L845 400L845 185M777 400L777 430M948 470L948 510"/>
<path class="k t" d="M145 172L168 164L168 180Z"/>
<!-- 16 tag -->
<path d="M655 200L720 170L755 185L690 215Z"/>
<!-- pipe 1 -->
<path class="w b" d="M655 42L678 28L695 45L685 68L665 65Z"/><path d="M668 34L680 62M660 50L690 55"/>
</g>
<use href="#clip" transform="translate(300,372.4)"/>
<use href="#clip" transform="translate(399.8,380)"/>
<use href="#nut" transform="translate(514.5,413) rotate(0)"/>
<!-- tile (277,414) ~4x -->
<g transform="translate(277,414) scale(0.25138)">
<path class="t" d="M725 193L785 193M700 140L1010 15M585 195L615 182M535 245L535 290M725 365L785 365"/>
<path class="w b" d="M635 140L655 134L690 150L690 170L720 180L720 215L690 225L640 205Z"/>
<path d="M650 165L690 172M650 140L652 165M648 185L662 188L660 200L647 197Z"/>
<path class="w b" d="M640 320L665 305L715 320L726 340L728 366L700 383L650 371L635 350Z"/>
<path class="b" d="M640 330L652 347L700 356L726 340M635 350L652 358L700 368L728 355M660 318L675 312L705 322L690 330ZM680 325L695 322"/>
</g>
<use href="#nut" transform="translate(414,467.5) rotate(0)"/>
<!-- clip 26 (source coords) -->
<g>
<path class="w b" d="M343.500 367L343.800 356Q344 353.500 347.500 353.500L350.500 353.800Q352 354 352 357L352 366"/>
<ellipse class="b" cx="348.800" cy="362.300" rx="1.800" ry="3.600"/>
<path class="h" d="M351.500 361.500L360.500 357.800M354 366.500L358.500 361"/>
<ellipse class="w h" cx="349.600" cy="370.400" rx="8.600" ry="2.800"/>
<path class="b" d="M341.500 371.500Q349.600 376 357.800 371.500"/>
<path class="w b" d="M345.600 373.500L346.500 377.600L353 377.600L353.900 373.500"/>
<path d="M348.500 374L348.500 377.500M351 374L351 377.500"/>
</g>

<!-- 30_tile20.svgf -->
<!-- tile (554,0) 4x -->
<g transform="translate(554,0) scale(0.25)">
<path class="t" d="M-312 390L390 82L420 102M437 145L437 215M625 278L695 278M517 490L517 535M945 490L945 560"/>
</g>
<use href="#clip" transform="translate(666.2,28.7)"/>
<!-- tile (554,138) 4x -->
<g transform="translate(554,138) scale(0.25)">
<path class="t" d="M0 50L27 50M75 325L140 325M422 440L422 490M440 527L488 550L330 572M225 125L262 125M940 50L975 62L950 70M800 175L800 265M880 130L915 100L925 125M945 130L1030 130L1030 215L1000 215M1030 175L1065 175M1050 470L1050 520M870 500L965 495L1040 455"/>
<ellipse class="w b" cx="370" cy="487" rx="8" ry="13"/><ellipse class="b" cx="370" cy="487" rx="3" ry="6"/>
<!-- hose 22 end cap + clip -->
<ellipse class="w b" cx="873" cy="13" rx="8" ry="12"/><ellipse class="b" cx="873" cy="13" rx="3" ry="6"/>
</g>
<use href="#clip" transform="translate(658.6,265.5)"/>
<use href="#clip" transform="translate(787.3,144)"/>
<!-- clip 25 (source coords) -->
<g transform="translate(597.500,174.500) rotate(-27)">
<path class="w" d="M-12.500 -5.200L12.500 -5.200L12.500 -0.400L-12.500 -0.400ZM-12.500 0.400L12.500 0.400L12.500 5.200L-12.500 5.200Z"/>
<path d="M-10 -5.200L-10 5.200M10.500 -5.200L10.500 5.200"/>
<ellipse class="b" cx="-1" cy="0" rx="3" ry="6.800"/>
<ellipse cx="2" cy="0" rx="3" ry="6.500"/>
</g>

<!-- 31_hose2.svgf -->
<!-- rubber hose of assy 2 (source coords) -->

<!-- upper fitting (8x view @655,130) -->
<g transform="translate(655,130) scale(0.12478)">
<path class="t" d="M230 0L230 25M270 95L290 100L285 355L380 400M150 40L170 55"/>
<ellipse class="w b" cx="222" cy="76" rx="42" ry="50" transform="rotate(15 222 76)"/>
<ellipse class="b" cx="222" cy="76" rx="20" ry="27" transform="rotate(15 222 76)"/><ellipse class="g" style="stroke:none" cx="222" cy="76" rx="12" ry="18" transform="rotate(15 222 76)"/>
<!-- pipe -->
<path style="stroke-width:5.4" d="M235 265Q270 235 320 245L400 275Q440 295 455 330L480 385"/>
<path class="wh" style="stroke-width:3" d="M235 265Q270 235 320 245L400 275Q440 295 455 330L480 385"/>
<!-- crimp -->
<path class="w b" d="M70 350L225 255L250 300L100 400Z"/>
<path class="b" d="M100 335Q125 350 125 385M130 315Q155 330 155 365M165 295Q188 310 190 345M195 275Q218 290 222 322"/>
<ellipse class="w b" cx="88" cy="372" rx="20" ry="30" transform="rotate(-30 88 372)"/>
<path class="h" d="M150 300L175 340M180 285L200 320"/>
<!-- block & bracket -->
<path class="w b" d="M375 410L405 370L470 400L440 452Z"/>
<path class="w b" d="M440 452L470 400L530 385L582 420L600 450L640 470L662 500L640 545L560 520L520 540L470 500Z"/>
<circle class="b" cx="490" cy="436" r="22"/><path class="b" d="M480 420Q500 436 482 455M470 400L600 450"/>
<ellipse class="w b" cx="636" cy="505" rx="18" ry="26" transform="rotate(-20 636 505)"/>
<!-- lower part of bracket (view B +481) -->
<path class="b" d="M440 481L520 601L600 581L640 541M470 500L500 540L560 520M580 611L600 651L675 596"/>
</g>
<!-- bolt 52 -->
<g transform="translate(776,212) rotate(204.5)">
<path class="w b" d="M-6.5 -4L-3.5 -6.5L3 -6.5L3 6.500L-3.500 6.500L-6.500 4Z"/><path class="b" d="M-6 -2L3 -2M-6 2L3 2"/>
<ellipse class="w b" cx="4.2" cy="0" rx="1.8" ry="7.5"/>
<path class="w" d="M6 -2.600L37 -2.600L37 2.600L6 2.600Z"/>
<path class="b" d="M21 -2.600L22 2.600M23.500 -2.600L24.500 2.600M26 -2.600L27 2.600M28.500 -2.600L29.500 2.600M31 -2.600L32 2.600M33.500 -2.600L34.500 2.600M36 -2.600L37 2.600"/>
</g>
<!-- lower fitting (8x view @715,215) -->
<g transform="translate(715,215) scale(0.12478)">
<path class="t" d="M0 540L110 485M150 500L150 555M352 470L352 560M370 402L400 386L620 386L770 300M820 335L820 430M170 440L215 415"/>
<path class="w b" d="M610 245L560 255L545 300L600 305L640 270Z"/>
<path class="b" d="M575 255L568 300M595 250L590 300"/>
<path class="w h" d="M480 272L550 255L555 312L490 330Z"/><path class="b" d="M500 270L505 325M525 262L530 318"/>
<path class="k b" d="M410 285L470 270L478 335L420 350Z"/><path class="wh" d="M435 290L440 338"/>
<path style="stroke-width:5.8" d="M410 312L345 330Q315 345 305 385"/>
<path class="wh" style="stroke-width:3.4" d="M410 312L345 330Q315 345 305 385"/>
<path class="w b" d="M210 362L290 315L330 335L365 420L350 470L300 482L250 442Z"/>
<path class="b" d="M290 315L320 400L350 470M230 375L262 360L275 400L245 415Z"/>
<circle class="b" cx="300" cy="446" r="18"/>
<path class="h" d="M205 395L245 380M210 410L250 395"/>
<ellipse class="b" cx="135" cy="470" rx="24" ry="30" transform="rotate(-20 135 470)"/><ellipse cx="138" cy="472" rx="12" ry="17" transform="rotate(-20 138 472)"/>
<!-- 31 right -->
<path class="w b" d="M800 250L925 180Q960 175 965 200Q960 225 935 240L815 310Z"/>
<path d="M890 200L905 240M915 190L960 205M905 240L950 230"/>
<ellipse class="w b" cx="790" cy="286" rx="28" ry="44" transform="rotate(25 790 286)"/>
<ellipse class="b" cx="797" cy="290" rx="16" ry="28" transform="rotate(25 797 290)"/>
</g>
<!-- sensor 28 (4x @554,138) -->
<g transform="translate(554,138) scale(0.25)">
<ellipse class="b" cx="940" cy="132" rx="14" ry="9" transform="rotate(-20 940 132)"/>
<path class="w b" d="M940 170L965 160L990 215L962 228Z"/><path class="b" d="M945 182L972 172M950 195L978 184M956 208L984 197"/>
<path class="w b" d="M955 225L995 210L1012 250L975 265Z"/>
<path class="w b" d="M980 265L1005 255L1018 280L1000 292L985 285Z"/>
</g>
<!-- 40 / 2 bracket -->
<path class="t" d="M734 276L734 284M759 273L759 319L734 319L734 313M746.5 319L746.5 323"/>
<!-- E-3-10 arrow -->
<path class="t" d="M729.500 277.500L693 298"/>
<path class="k t" d="M689.500 300.300L694.200 293.700L697.400 299.300Z"/>

<!-- 32_tile22.svgf -->
<!-- bracket 20, clamp 42 (8x @540,330) -->
<g transform="translate(540,330) scale(0.12478)">
<path class="t" d="M447 150L447 260M560 220L560 280M548 345L548 440M1060 265L1140 265"/>
<path class="b" d="M160 395L235 385M165 420L235 410"/>
<path class="w b" d="M450 262L600 275L680 300L820 300L1022 386L1002 416L940 432L740 346L660 352L450 296Q425 285 450 262Z"/>
<path d="M680 300L675 348M1022 386L1045 405"/>
<ellipse cx="548" cy="290" rx="22" ry="11"/><ellipse cx="815" cy="342" rx="20" ry="12" transform="rotate(15 815 342)"/><ellipse cx="935" cy="392" rx="22" ry="13" transform="rotate(15 935 392)"/>
<!-- clamp 42 -->
<path class="w b" d="M752 110L800 88L1058 195L1066 245L1012 292L752 195Z"/>
<path class="w b" d="M754 108L754 162Q754 196 790 200Q826 196 826 162L826 116M754 108Q763 94 774 110L774 156Q774 176 790 176Q806 176 806 156L806 118Q817 102 826 116M832 140L832 194Q832 228 868 232Q904 228 904 194L904 148M832 140Q841 126 852 142L852 188Q852 208 868 208Q884 208 884 188L884 150Q895 134 904 148M910 172L910 226Q910 260 946 264Q982 260 982 226L982 180M910 172Q919 158 930 174L930 220Q930 240 946 240Q962 240 962 220L962 182Q973 166 982 180M984 202L984 256Q984 290 1020 294Q1056 290 1056 256L1056 210M984 202Q993 188 1004 204L1004 250Q1004 270 1020 270Q1036 270 1036 250L1036 212Q1047 196 1056 210"/>
<path class="b" d="M752 195L1012 292M1056 210L1066 245"/>
<path d="M800 215L820 240L850 235M920 262L940 290L965 280"/>
</g>
<use href="#bolts" transform="translate(608,402) rotate(-90) scale(0.85)"/>
<path class="t" d="M612.5 404.300L626 404.300"/>
<!-- strip under pipe (8x @540,385) -->
<g transform="translate(540,385) scale(0.12478)">
<path d="M415 255L450 250L780 395L745 425L415 268ZM445 272L755 412"/>
<circle class="w b" cx="545" cy="250" r="15"/><circle class="w b" cx="690" cy="315" r="15"/>
<path class="t" d="M40 120L75 100"/>
</g>
<!-- bracket 18 + 41 (8x @490,395) -->
<g transform="translate(490,395) scale(0.12478)">
<path class="t" d="M190 0L190 70M0 315L320 180M270 100L370 65M440 40L470 20M860 468L975 468M640 781L640 881"/>
<path class="w b" d="M335 -10L335 60L380 82L385 232L432 262L436 100L410 20L372 -5Z"/>
<circle cx="386" cy="60" r="12"/><circle cx="415" cy="210" r="12"/>
<path class="h" d="M322 172L398 150M325 185L400 163"/>
<path class="w b" d="M345 268L372 250L432 320L542 320L552 346L560 441L545 531L600 671L632 641L742 711L682 781L602 771L590 751L430 581L360 501L350 441Z"/>
<path class="b" d="M380 300L372 290L470 360L552 346M380 300L390 500M470 360L490 540L500 561L540 581M480 470L545 455M360 501L500 566M590 751L690 761L742 711M600 671L690 741M430 581L590 740"/>
<ellipse cx="505" cy="626" rx="22" ry="12" transform="rotate(25 505 626)"/>
<!-- 41 -->
<path class="w b" d="M665 420L720 405L800 425L850 450L860 500L800 540L720 545L650 520L660 480Z"/>
<path class="b" d="M690 430L700 480L760 500L840 470M760 500L765 545M720 405L730 450L800 470L800 425M700 480L660 510M800 470L805 540"/>
<circle class="b" cx="700" cy="432" r="12"/><circle class="b" cx="745" cy="440" r="12"/>
<path class="h" d="M670 500L700 520L690 540M720 500L740 530"/>
</g>

<!-- 33_right.svgf -->
<!-- right assembly: (8x @920,250) -->
<g transform="translate(920,250) scale(0.12478)">
<path class="t" d="M495 168L580 168M945 15L950 40L1300 175L1300 145M1120 108L1120 200"/>
<!-- bracket 11 upper -->
<path class="w b" d="M480 290L540 300L600 320L635 400L640 552L640 641L560 621L440 651L470 490L500 420L490 340Z"/>
<path d="M525 400L620 427M470 490L640 490M440 320L440 600"/>
<ellipse cx="550" cy="335" rx="28" ry="13" transform="rotate(-10 550 335)"/>
<!-- plate (R2 +481) -->
<path class="w b" d="M215 531L300 546Q370 545 440 511L450 481L470 490L640 490L640 641L560 621L440 671L195 581Z"/>
<path class="b" d="M215 571L440 651L560 621L640 611"/>
<ellipse cx="265" cy="566" rx="25" ry="13"/><ellipse cx="440" cy="606" rx="28" ry="15"/><ellipse cx="545" cy="566" rx="28" ry="14"/>
<path d="M265 491L265 561M480 496L540 521L545 561"/>
<path class="t" d="M265 631L265 661M440 681L440 821M540 666L540 781M640 611L735 611M145 771L210 771"/>
<!-- body 8 -->
<path class="w b" d="M380 811L420 781L520 746L580 761L605 801L605 1002L580 1037L500 1062L420 1047L385 1012Z"/>
<path class="b" d="M380 831L430 866L520 871L600 831M497 871L497 1062"/>
<ellipse cx="445" cy="826" rx="28" ry="13"/><ellipse cx="542" cy="786" rx="28" ry="13"/>
<ellipse class="b" cx="565" cy="896" rx="20" ry="27"/>
<!-- bracket 8 lines -->
<path class="t" d="M12 2240L12 976L375 976M12 1462L75 1462M-135 1660L12 1660M12 1752L410 1752M12 1946L98 1946M12 2240L105 2240M355 1462L415 1462"/>
<path class="t" style="stroke-dasharray:2 2" d="M15 1217L80 1217M335 1217L450 1217"/>
<!-- part 10 -->
<path class="w b" d="M452 1132L455 1322L480 1352L520 1352L545 1322L548 1132Z"/>
<ellipse class="w b" cx="499" cy="1128" rx="48" ry="20"/><ellipse cx="499" cy="1128" rx="28" ry="10"/>
<path class="b" d="M455 1172L548 1172M456 1272L546 1272M475 1182L475 1262M525 1182L525 1262M460 1302L540 1302M500 1312L500 1352"/>
<!-- ring 34 -->
<ellipse class="b" cx="493" cy="1457" rx="76" ry="33"/><ellipse class="b" cx="493" cy="1457" rx="56" ry="20"/>
<!-- cup (R4 +1442.5) -->
<path class="w b" d="M392 1622L392 1682L415 1712L420 1862L450 1887L500 1882L560 1852L575 1742L600 1682L600 1622Z"/>
<path class="b" d="M392 1652Q495 1722 600 1652M392 1682Q495 1752 600 1682M415 1712Q495 1762 575 1712M500 1882L505 1862L560 1842"/>
<ellipse class="w h" cx="496" cy="1622" rx="105" ry="54"/>
<ellipse class="b" cx="496" cy="1622" rx="84" ry="40"/><ellipse class="b" cx="496" cy="1624" rx="54" ry="22"/>
<!-- 38 -->
<ellipse class="h" cx="495" cy="1947" rx="42" ry="22"/><ellipse class="b" cx="495" cy="1947" rx="24" ry="9"/>
<path class="t" d="M395 1945L440 1945M400 2240L440 2240"/>
<!-- 35 plug -->
<path class="w b" d="M455 2185Q495 2150 540 2185L545 2215L450 2215Z"/>
<ellipse class="w b" cx="497" cy="2232" rx="62" ry="24"/>
<path class="w b" d="M452 2200L545 2200L548 2228L450 2228Z"/><path d="M480 2200L480 2228M520 2200L520 2228"/>
<path class="b" d="M465 2255L530 2255"/>
<!-- o-ring 36 + sensor + 37 (R2/R3) -->
<path class="t" d="M585 906L680 941M735 961L790 981M980 1075L1035 1095M697 987L697 1062M1048 1137L1048 1197"/>
<ellipse class="b" cx="705" cy="951" rx="26" ry="31" transform="rotate(-20 705 951)"/><ellipse cx="708" cy="953" rx="12" ry="16" transform="rotate(-20 708 953)"/>
<ellipse class="b" cx="1050" cy="1102" rx="18" ry="27" transform="rotate(-20 1050 1102)"/>
<!-- 17 bracket lower -->
<path class="t" d="M697 1312L697 1382L1048 1524L1048 1450M868 1470L868 1575"/>
<!-- B-3-1 arrow -->
<path class="t" d="M865 806L1190 1110L1080 1062M870 808L990 856"/>
<path class="k t" d="M1015 866L960 868L975 832Z"/>
</g>
<!-- sensors -->
<g id="sens" transform="translate(1047,209.500) rotate(24)">
<path class="w b" d="M0 -4L10 -4L10 4L0 4Z"/><path class="b" d="M1.500 -4L2.500 4M4 -4L5 4M6.500 -4L7.500 4M9 -4L10 4"/>
<path class="w b" d="M10 -6L19 -7L22 -5L22 5L19 7L10 6Z"/><path d="M10 -2.500L22 -2.500M10 2.500L22 2.500"/>
<path class="w b" d="M22 -4.500L29 -4.500L29 4.500L22 4.500Z"/><path class="b" d="M24.500 -4.500L24.500 4.500M27 -4.500L27 4.500"/>
</g>
<use href="#sens" transform="translate(2092.5,595.5) rotate(180)"/>
<path class="t" d="M1021.800 198L1037.500 205.500M1043.500 208L1046 209M1076 222L1090 228.500M1038.400 209.500L1038.400 220M1081.700 230L1081.700 237.500"/>
<ellipse class="b" cx="1040.500" cy="207.500" rx="2.700" ry="4" transform="rotate(-15 1040.500 207.500)"/>
<ellipse class="b" cx="1083.500" cy="225.600" rx="3.200" ry="4.300" transform="rotate(-15 1083.500 225.600)"/>
<use href="#bolts" transform="translate(974,267.500) rotate(90) scale(1.05)"/>
<use href="#bolts" transform="translate(953.200,348) rotate(-90) scale(0.9)"/>

<!-- 34_clamps.svgf -->
<!-- clamp 44 A (8x @860,160) -->
<g transform="translate(860,160) scale(0.12478)">
<path class="t" d="M318 40L318 200"/>
<path class="w b" d="M185 250L215 185L240 180L260 200L275 180L340 185L365 240L400 290L425 265L450 290L470 340L495 300L520 310L540 350L570 325L590 360L560 440L520 465L430 470L400 455L300 410L260 370L200 330Z"/>
<path class="b" d="M215 185L200 260L225 300L250 210L260 200M240 180L225 250M275 180L280 235L340 230L340 185M290 200L330 205L325 225L292 222ZM340 230L320 300L350 360L380 340L365 240M425 265L400 350L420 400L450 380L450 290M495 300L470 380L490 430L520 410L520 310M570 325L545 400L560 440M280 235L270 300L300 320L320 300M200 330L260 340L300 410M350 360L400 400L400 455M450 380L470 420L520 465"/>
<path class="h" d="M290 280L300 300M300 380L310 395M410 425L418 440"/>
</g>
<!-- clamp 44 C and B (8x @775,345) -->
<g transform="translate(775,345) scale(0.12478)">
<path class="t" d="M675 290L675 380M238 500L238 560"/>
<g id="c44">
<path class="w b" d="M545 95L600 60L650 60L660 45L730 50L745 95L740 160L800 145L850 165L890 175L950 215L940 260L850 310L760 305L690 275L610 240L600 215L545 190Z"/>
<path class="b" d="M570 110L570 160L600 185L625 150L615 110Q590 90 570 110M650 60L650 100L640 160L655 190M690 95L745 95M690 130L735 130M690 95L685 180L700 230L735 225L745 180L740 160M770 180L790 250L820 255L830 200L880 185L890 175M770 180L800 145M860 215L870 270L900 270L935 235L950 215M545 190L610 215L690 250L760 280L850 290L940 260M660 45L665 75L725 78L730 50"/>
<path class="h" d="M652 110L652 150M625 215L632 228M745 268L752 280"/>
</g>
<use href="#c44" transform="translate(-440,212)"/>
</g>
<!-- clip 29 + pipe end nut + chevron (8x @970,140) -->
<g transform="translate(970,140) scale(0.12478)">
<path class="t" d="M138 132L230 132M890 155L1000 205L415 465"/>
<path class="w b" d="M225 125L260 100L300 100L340 120L370 130L395 215L330 265L240 230L230 190L250 180L245 150Z"/>
<path class="b" d="M245 150L290 160L340 120M290 160L300 245M250 180L270 190L268 240"/>
<circle class="h" cx="350" cy="205" r="32"/><circle class="k" cx="350" cy="205" r="12"/>
<path class="w b" d="M795 110L830 85L880 100L895 140L870 180L820 178L790 150Z"/>
<path class="b" d="M830 85L822 178M860 95Q840 135 862 180"/>
<ellipse class="b" cx="862" cy="138" rx="22" ry="38" transform="rotate(15 862 138)"/>
</g>

<!-- 35_pipe15.svgf -->
<!-- pipe 15 ends, clamp, bolt 46 (tile 554,414 ~4x) -->
<g transform="translate(554,414) scale(0.25138)">
<path class="t" d="M410 150L432 172M772 210L772 260M537 315L537 365M993 0L993 15"/>
<path class="w b" d="M418 170Q410 195 430 205L450 200L485 165L470 148L440 150Z"/>
<circle class="b" cx="437" cy="188" r="7"/>
<path class="w b" d="M588 128L625 126L632 170L612 176Z"/><path class="b" d="M615 176L625 185L645 182"/>
</g>
<use href="#bolt" transform="translate(685,486) rotate(229)"/>
<!-- right end tab (tile 831,414) -->
<g transform="translate(831,414) scale(0.25138)">
<path class="w b" d="M195 352L250 362Q268 378 255 395L232 402L200 388Z"/>
<circle class="b" cx="235" cy="380" r="8"/><circle class="k" cx="235" cy="380" r="3"/>
</g>
<!-- pipe 15 right clamp (8x @770,450) + left sleeve (8x @655,440) -->
<g transform="translate(770,450) scale(0.12478)">
<path class="w b" d="M505 352L560 368L548 425L492 408Z"/>
<path class="w b" d="M440 435Q445 415 490 415L540 430Q530 460 480 460Q445 455 440 435Z"/>
<ellipse class="k" cx="482" cy="436" rx="16" ry="8"/>
<path class="b" d="M668 408L662 462M860 440L905 492"/>
</g>
<g transform="translate(655,440) scale(0.12478)">
<path class="b" d="M160 88L180 135M150 80L370 58M175 140L385 125"/>
<path class="w b" d="M372 48L440 45L448 135L400 140Z"/>
<path class="w b" d="M430 132L495 130L498 155L440 158Z"/>
</g>

<!-- 90_labels.svgf -->
<g id="labels" style="opacity:0.999">
<text x="20" y="36.5">6</text>
<text x="138" y="37">53</text>
<text x="186.5" y="54">7</text>
<text x="239" y="54">51</text>
<text x="35.5" y="90.5">14</text>
<text x="265" y="107.5">47</text>
<text x="42" y="162.5">13</text>
<text x="244" y="174">31</text>
<text x="158" y="195">30</text>
<text x="30" y="249.5">51</text>
<text x="73.5" y="254.5">5</text>
<text x="204.5" y="252.5">4</text>
<text x="102.5" y="292">53</text>
<text x="163.5" y="328">51</text>
<text x="246.5" y="363">24</text>
<text x="20.5" y="426">51</text>
<text x="94.5" y="476.5">21</text>
<text x="242.5" y="488">32</text>
<text x="416.5" y="57.5">33</text>
<text x="455.5" y="66">27</text>
<text x="539.5" y="111.5">3</text>
<text x="348.5" y="134.5">37</text>
<text x="501" y="170">9</text>
<text x="451" y="180.5">12</text>
<text x="373.5" y="209.5">55</text>
<text x="288" y="200">49</text>
<text x="328.5" y="261.5">47</text>
<text x="351" y="313">50</text>
<text x="445" y="358.5">16</text>
<text x="504" y="385.5">32</text>
<text x="466" y="405.5">1</text>
<text x="290" y="413">47</text>
<text x="337" y="411.5">26</text>
<text x="392.5" y="424">47</text>
<text x="480.5" y="469">19</text>
<text x="402" y="508">32</text>
<text x="481.5" y="513">43</text>
<text x="652.5" y="74.5">48</text>
<text x="735.5" y="77">22</text>
<text x="673.5" y="115">39</text>
<text x="780.5" y="114">48</text>
<text x="568.5" y="156.5">48</text>
<text x="626.5" y="175">25</text>
<text x="745" y="173">52</text>
<text x="827.5" y="188">28</text>
<text x="546" y="227">23</text>
<text x="650" y="240">48</text>
<text x="808" y="290">31</text>
<text x="725" y="306">40</text>
<text x="740.5" y="346.5">2</text>
<text x="585.5" y="340.5">20</text>
<text x="688" y="370.5">42</text>
<text x="634.5" y="410.5">45</text>
<text x="618.5" y="460.5">41</text>
<text x="795" y="440">44</text>
<text x="738.5" y="500.5">15</text>
<text x="559.5" y="525.5">18</text>
<text x="678" y="526.5">46</text>
<text x="889.5" y="157">44</text>
<text x="959.5" y="162.5">29</text>
<text x="1027.5" y="241.5">37</text>
<text x="1073.5" y="259">36</text>
<text x="999.5" y="277.5">54</text>
<text x="1049" y="298">17</text>
<text x="1017.5" y="334">11</text>
<text x="911.5" y="353.5">45</text>
<text x="936.5" y="407.5">10</text>
<text x="996.5" y="403.5">36</text>
<text x="850" y="414.5">44</text>
<text x="1039" y="420.5">37</text>
<text x="937" y="440.5">34</text>
<text x="885" y="464.5">8</text>
<text x="1018" y="467.5">17</text>
<text x="941" y="499.5">38</text>
<text x="941" y="536">35</text>
<text x="784" y="526" style="font-size:13px" textLength="78" lengthAdjust="spacingAndGlyphs">SNF4B0400C</text>
<text class="bd" x="153" y="504" textLength="72" lengthAdjust="spacingAndGlyphs">B-17-30</text>
<text class="bd" x="274" y="325" textLength="29" lengthAdjust="spacingAndGlyphs">E-1</text>
<text class="bd" x="622.5" y="310" textLength="59" lengthAdjust="spacingAndGlyphs">E-3-10</text>
<text class="bd" x="1051.5" y="368" textLength="46" lengthAdjust="spacingAndGlyphs">B-3-1</text>
</g>

</svg>
</body></html>
